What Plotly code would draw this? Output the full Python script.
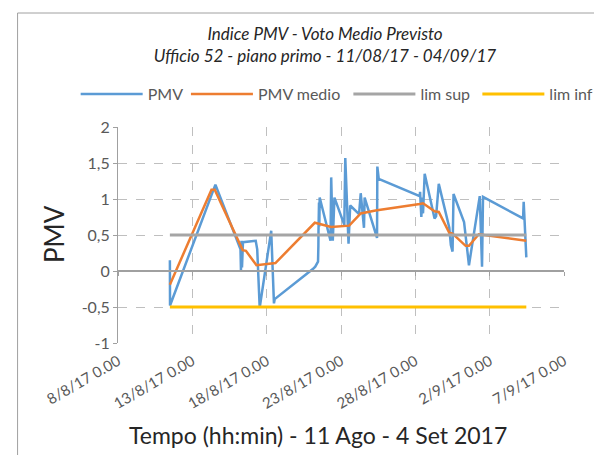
import plotly.graph_objects as go

# ---- data ----
pmv_time = [
    "2017-08-11 11:45", "2017-08-11 12:00", "2017-08-14 13:15", "2017-08-16 05:45",
    "2017-08-16 06:30", "2017-08-16 07:20", "2017-08-16 08:10", "2017-08-16 09:45",
    "2017-08-17 06:20", "2017-08-17 08:45", "2017-08-17 12:45", "2017-08-18 07:20",
    "2017-08-18 11:45", "2017-08-18 13:00", "2017-08-21 03:00", "2017-08-21 06:25",
    "2017-08-21 10:55", "2017-08-21 11:20", "2017-08-21 11:30", "2017-08-21 11:40",
    "2017-08-21 11:50", "2017-08-21 12:00", "2017-08-21 12:30", "2017-08-21 13:00",
    "2017-08-21 13:35", "2017-08-22 07:05", "2017-08-22 08:10", "2017-08-22 10:45",
    "2017-08-22 13:25", "2017-08-23 05:20", "2017-08-23 06:55", "2017-08-23 12:10",
    "2017-08-23 14:50", "2017-08-24 05:10", "2017-08-24 07:50", "2017-08-24 13:05",
    "2017-08-24 14:10", "2017-08-25 10:10", "2017-08-25 10:40", "2017-08-25 12:55",
    "2017-08-28 07:10", "2017-08-28 07:40", "2017-08-28 09:40", "2017-08-28 11:15",
    "2017-08-28 12:25", "2017-08-28 15:05", "2017-08-29 07:00", "2017-08-29 09:30",
    "2017-08-29 13:50", "2017-08-30 06:50", "2017-08-30 09:20", "2017-08-30 12:05",
    "2017-08-30 13:40", "2017-08-31 06:40", "2017-08-31 14:35", "2017-09-01 08:00",
    "2017-09-01 11:40", "2017-09-01 13:15", "2017-09-04 05:55", "2017-09-04 06:55",
    "2017-09-04 08:45", "2017-09-04 11:10",
]
pmv_values = [
    0.15, -0.48, 1.20, 0.30,
    0.01, 0.42, 0.05, 0.40,
    0.42, 0.30, -0.51, 0.56,
    -0.45, -0.39, 0.03, 0.06,
    0.13, 0.22, 0.35, 0.55,
    0.85, 0.60, 0.95, 0.62,
    1.02, 0.42, 1.30, 0.42,
    1.02, 0.64, 1.57, 0.38,
    0.91, 0.79, 1.08, 0.60,
    1.02, 0.46, 1.45, 1.28,
    1.04, 1.10, 0.75, 1.02,
    0.80, 1.35, 0.73, 0.76,
    1.21, 0.60, 0.36, 0.27,
    1.07, 0.68, 0.08, 1.04,
    0.06, 1.03, 0.73, 0.96,
    0.50, 0.19,
]

medio_time = [
    "2017-08-11 11:45", "2017-08-14 06:55", "2017-08-14 12:10", "2017-08-16 09:15",
    "2017-08-16 14:30", "2017-08-17 07:30", "2017-08-18 14:10", "2017-08-21 05:40",
    "2017-08-22 08:10", "2017-08-23 13:15", "2017-08-24 07:50", "2017-08-25 07:40",
    "2017-08-28 07:10", "2017-08-28 12:25", "2017-08-29 07:00", "2017-08-29 13:50",
    "2017-08-30 06:50", "2017-08-30 12:05", "2017-08-31 09:10", "2017-08-31 14:35",
    "2017-09-01 06:25", "2017-09-04 11:10",
]
medio_values = [
    -0.19, 1.13, 1.13, 0.29,
    0.28, 0.08, 0.11, 0.67,
    0.61, 0.63, 0.80, 0.84,
    0.93, 0.94, 0.83, 0.82,
    0.53, 0.52, 0.35, 0.35,
    0.51, 0.42,
]

lim_time = ["2017-08-11 11:45", "2017-09-04 11:10"]
lim_sup = [0.5, 0.5]
lim_inf = [-0.5, -0.5]

x_tickvals = ["2017-08-08", "2017-08-13", "2017-08-18", "2017-08-23",
              "2017-08-28", "2017-09-02", "2017-09-07"]
x_ticktext = ["8/8/17 0.00", "13/8/17 0.00", "18/8/17 0.00", "23/8/17 0.00",
              "28/8/17 0.00", "2/9/17 0.00", "7/9/17 0.00"]
y_tickvals = [-1, -0.5, 0, 0.5, 1, 1.5, 2]
y_ticktext = ["-1", "-0,5", "0", "0,5", "1", "1,5", "2"]

series_names = ["PMV", "PMV medio", "lim sup", "lim inf"]
series_colors = ["#5B9BD5", "#ED7D31", "#A5A5A5", "#FFC000"]

FONT = "Lato, 'Open Sans', sans-serif"
TXT = "#595959"
DARK = "#262626"

L, R, T, B = 110, 39, 119, 120
W, H = 602, 455
pw, ph = W - L - R, H - T - B

def px_x(p):
    return (p - L) / pw

def px_y(p):
    return (H - B - p) / ph

legend_keys = ["legend", "legend2", "legend3", "legend4"]
legend_left = [73, 185, 350, 481]   # left end of each legend line sample

fig = go.Figure()
series_x = [pmv_time, medio_time, lim_time, lim_time]
series_y = [pmv_values, medio_values, lim_sup, lim_inf]
widths = [2.5, 2.5, 3, 3]
for i in range(4):
    fig.add_trace(go.Scatter(x=series_x[i], y=series_y[i], mode="lines",
                             name=series_names[i], legend=legend_keys[i],
                             line=dict(color=series_colors[i], width=widths[i])))
# invisible trace carrying the horizontal axis line at y = 0
fig.add_trace(go.Scatter(x=lim_time, y=[None, None], xaxis="x2", showlegend=False,
                         hoverinfo="skip"))

legend_common = dict(orientation="h", xanchor="left", yanchor="middle",
                     font=dict(size=16, color=TXT, family=FONT), itemwidth=62,
                     bgcolor="rgba(0,0,0,0)", borderwidth=0)
legends = {}
for i, key in enumerate(legend_keys):
    legends[key] = dict(legend_common, x=px_x(legend_left[i] - 6), y=px_y(86))

fig.update_layout(
    width=W, height=H,
    margin=dict(l=L, r=R, t=T, b=B),
    paper_bgcolor="white", plot_bgcolor="white",
    font=dict(family=FONT, color=TXT, size=16),
    title=dict(text="<i>Indice PMV - Voto Medio Previsto<br>Ufficio 52 - piano primo - 11/08/17 - 04/09/17</i>",
               x=317 / W, xanchor="center", xref="container",
               y=1 - 32 / H, yanchor="middle", yref="container",
               font=dict(size=17, color=DARK, family=FONT)),
    xaxis=dict(type="date", range=["2017-08-08", "2017-09-07"],
               tickmode="array", tickvals=x_tickvals, ticktext=x_ticktext,
               tickangle=-30, tickfont=dict(size=15, color=TXT),
               ticklabelstandoff=6,
               showgrid=True, gridcolor="#BFBFBF", griddash="dash", gridwidth=1,
               showline=False, zeroline=False, ticks=""),
    xaxis2=dict(type="date", matches="x", overlaying="x", anchor="free",
                position=1 / 3, showline=True, linecolor="#A0A0A0", linewidth=1.5,
                ticks="outside", ticklen=4, tickcolor="#A0A0A0",
                tickmode="array", tickvals=x_tickvals,
                showticklabels=False, showgrid=False, zeroline=False),
    yaxis=dict(range=[-1, 2], tickmode="array", tickvals=y_tickvals, ticktext=y_ticktext,
               tickfont=dict(size=16, color=TXT),
               showgrid=True, gridcolor="#BFBFBF", griddash="dash", gridwidth=1,
               zeroline=False, showline=True, linecolor="#A0A0A0", linewidth=1,
               ticks="outside", ticklen=4, tickcolor="#A0A0A0"),
    showlegend=True,
    **legends,
)

fig.add_annotation(text="Tempo (hh:min) - 11 Ago - 4 Set 2017", xref="paper", yref="paper",
                   x=px_x(313), y=px_y(427), xanchor="center", yanchor="middle",
                   showarrow=False, font=dict(size=23, color=DARK, family=FONT))
fig.add_annotation(text="PMV", xref="paper", yref="paper", textangle=-90,
                   x=px_x(45), y=px_y(226), xanchor="center", yanchor="middle",
                   showarrow=False, font=dict(size=26, color=DARK, family=FONT))

# chart frame (left and top border)
fig.add_shape(type="line", xref="paper", yref="paper",
              x0=px_x(8), x1=px_x(8), y0=px_y(5), y1=px_y(H + 5),
              line=dict(color="#A0A0A0", width=1))
fig.add_shape(type="line", xref="paper", yref="paper",
              x0=px_x(8), x1=px_x(W + 10), y0=px_y(5), y1=px_y(5),
              line=dict(color="#A0A0A0", width=1))

fig.write_html("out.html")
